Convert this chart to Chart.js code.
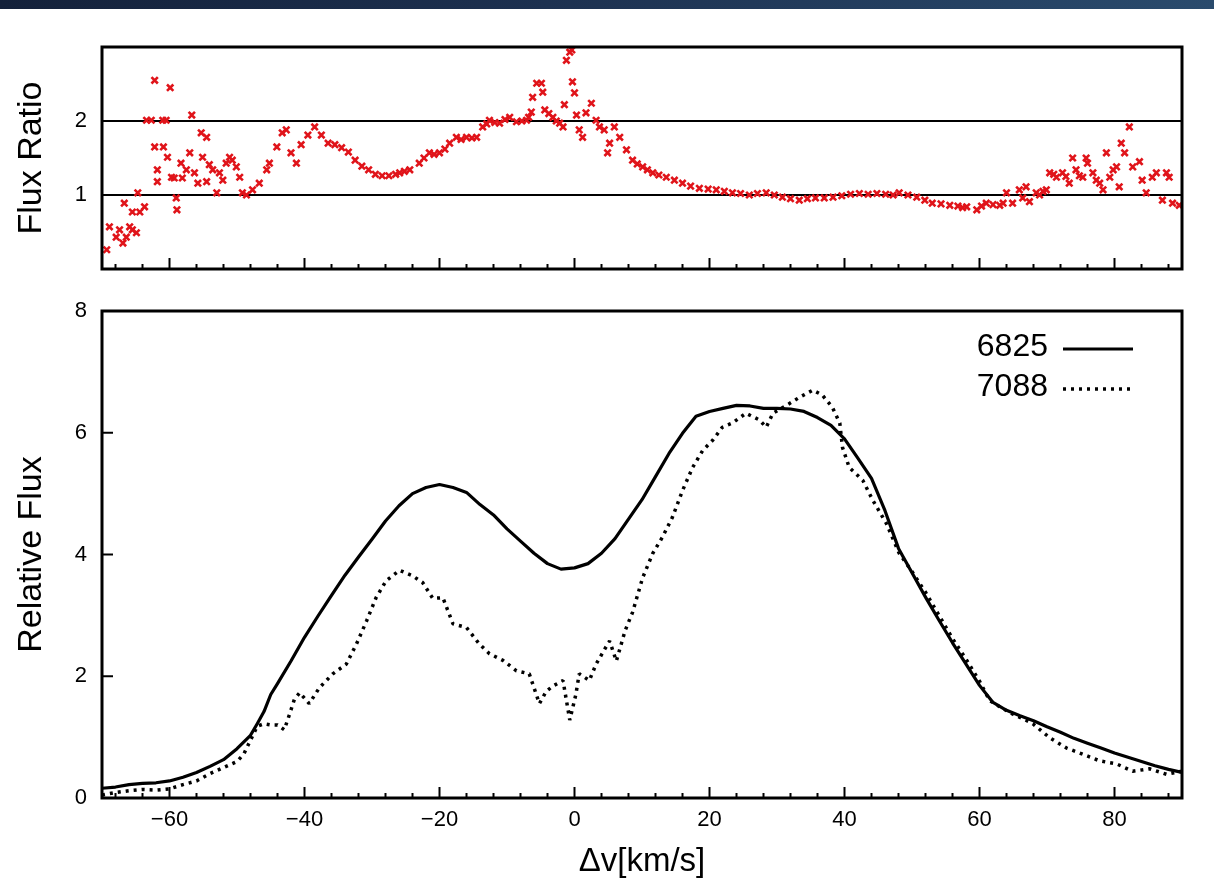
<!DOCTYPE html>
<html>
<head>
<meta charset="utf-8">
<script src="https://cdn.jsdelivr.net/npm/chart.js@4"></script>
<style>
html,body{margin:0;padding:0;background:#fff;}
#wrap{position:relative;width:1214px;height:879px;overflow:hidden;background:#fff;}
#band{position:absolute;left:0;top:0;width:1214px;height:9px;background:linear-gradient(90deg,#14213a 0%,#1d3150 45%,#2a4b6d 100%);}
#c1{position:absolute;left:0;top:0;width:1214px;height:290px;}
#c2{position:absolute;left:0;top:290px;width:1214px;height:589px;}
</style>
</head>
<body>
<div id="wrap">
<div id="band"></div>
<canvas id="c1" width="1214" height="290"></canvas>
<canvas id="c2" width="1214" height="589"></canvas>
</div>
<script>
// ---------- DATA ----------
const xTickValues = [-68,-64,-60,-56,-52,-48,-44,-40,-36,-32,-28,-24,-20,-16,-12,-8,-4,0,4,8,12,16,20,24,28,32,36,40,44,48,52,56,60,64,68,72,76,80,84,88];
const xMajorTicks = [-60,-40,-20,0,20,40,60,80];
const ratioTicks = [1,2];
const fluxTicks = [0,2,4,6,8];

// Top panel: flux ratio (red crosses)
const ratioVel = [-69.3,-68.9,-67.9,-67.4,-66.9,-66.7,-66.4,-65.9,-65.5,-65.5,-64.9,-64.7,-64.4,-63.7,-63.4,-62.7,-62.2,-62.2,-61.8,-61.8,-61.0,-60.9,-60.5,-60.3,-59.9,-59.7,-59.3,-59.0,-58.9,-58.3,-58.1,-57.5,-57.0,-56.7,-56.3,-55.8,-55.3,-55.1,-54.5,-54.5,-54.1,-53.6,-53.0,-52.6,-52.1,-51.6,-51.1,-50.7,-50.1,-49.6,-49.2,-48.6,-47.7,-46.7,-45.6,-45.2,-44.1,-43.3,-42.7,-42.0,-41.2,-40.5,-39.5,-38.5,-37.5,-36.5,-35.5,-34.5,-33.5,-32.5,-31.5,-30.5,-29.5,-28.5,-27.5,-26.5,-25.9,-25.2,-24.4,-23.0,-22.3,-21.5,-20.8,-20.0,-19.2,-18.5,-17.5,-16.8,-16.0,-15.2,-14.5,-13.6,-13.0,-12.6,-11.8,-11.1,-10.3,-9.6,-8.6,-7.8,-7.1,-6.8,-6.4,-6.2,-5.6,-4.9,-4.7,-4.4,-3.8,-3.2,-2.7,-2.2,-1.7,-1.5,-1.2,-0.7,-0.4,-0.3,0.0,0.3,0.7,1.2,1.7,2.5,3.2,3.7,4.4,4.9,5.2,5.9,6.7,7.7,8.6,9.3,10.1,10.8,11.6,12.5,13.6,14.8,16.0,17.2,18.5,19.8,21.0,22.2,23.4,24.6,25.9,27.1,28.4,29.6,30.8,32.0,33.3,34.5,35.7,37.0,38.3,39.6,40.9,42.2,43.5,44.8,46.1,47.2,48.1,49.4,50.7,51.9,53.0,54.3,55.6,56.8,57.5,58.1,59.6,60.3,61.0,62.0,63.0,63.5,64.0,64.9,65.9,66.4,66.9,67.4,68.4,68.9,69.4,69.9,70.4,71.0,71.4,72.3,72.8,73.3,73.8,74.3,74.8,75.3,75.8,76.0,76.8,77.3,77.8,78.3,78.8,79.3,79.8,80.3,80.7,81.0,81.5,82.2,82.7,83.7,84.1,84.7,85.6,86.2,87.1,87.7,88.1,88.6,89.6];
const ratioVal = [0.26,0.57,0.43,0.53,0.35,0.89,0.43,0.57,0.53,0.77,0.49,1.03,0.77,0.84,2.01,2.01,2.55,1.65,1.34,1.18,2.01,1.65,2.01,1.51,2.45,1.24,1.23,0.96,0.80,1.43,1.23,1.34,1.57,2.08,1.30,1.16,1.84,1.51,1.78,1.18,1.41,1.34,1.03,1.30,1.20,1.43,1.51,1.47,1.38,1.24,1.03,1.00,1.07,1.16,1.34,1.43,1.65,1.84,1.88,1.57,1.43,1.68,1.81,1.92,1.81,1.70,1.68,1.64,1.58,1.47,1.39,1.34,1.28,1.26,1.26,1.28,1.30,1.32,1.34,1.43,1.50,1.57,1.55,1.57,1.62,1.70,1.78,1.75,1.78,1.77,1.78,1.92,1.96,2.01,1.98,1.97,2.02,2.05,1.99,2.00,2.01,2.05,2.12,2.32,2.51,2.51,2.39,2.15,2.10,2.05,2.00,1.97,1.92,2.22,2.82,2.93,2.96,2.53,2.38,2.08,1.88,1.78,2.11,2.24,2.01,1.92,1.88,1.57,1.70,1.92,1.78,1.61,1.47,1.42,1.38,1.34,1.30,1.27,1.24,1.20,1.16,1.12,1.09,1.08,1.07,1.05,1.03,1.02,1.00,1.02,1.03,1.00,0.97,0.95,0.93,0.95,0.96,0.96,0.97,0.99,1.01,1.02,1.01,1.02,1.01,1.00,1.03,1.00,0.97,0.93,0.89,0.88,0.86,0.85,0.83,0.84,0.80,0.85,0.89,0.87,0.86,0.89,1.03,0.89,1.07,0.96,1.11,0.91,1.03,1.00,1.05,1.07,1.30,1.28,1.24,1.30,1.25,1.16,1.50,1.34,1.26,1.24,1.50,1.43,1.30,1.20,1.16,1.07,1.57,1.24,1.34,1.38,1.11,1.70,1.57,1.92,1.38,1.45,1.20,1.03,1.24,1.30,0.93,1.30,1.24,0.89,0.86];

// Bottom panel: relative flux, series 6825 (solid)
const vel6825 = [-70,-68,-66,-64,-62,-60,-58,-56,-54,-52,-50,-48,-47,-46,-45,-44,-42,-40,-38,-36,-34,-32,-30,-28,-26,-24,-22,-20,-18,-16,-14,-12,-10,-8,-6,-4,-2,0,2,4,6,8,10,12,14,16,18,20,22,24,26,28,30,32,34,36,38,40,42,44,46,48,50,52,54,56,58,60,62,64,66,68,70,72,74,76,78,80,82,84,86,88,90];
const flux6825 = [0.16,0.18,0.22,0.24,0.25,0.28,0.34,0.42,0.52,0.63,0.81,1.03,1.22,1.42,1.70,1.88,2.25,2.64,2.99,3.33,3.66,3.96,4.25,4.55,4.80,5.00,5.10,5.15,5.10,5.02,4.82,4.65,4.42,4.22,4.02,3.85,3.76,3.78,3.85,4.02,4.26,4.58,4.90,5.28,5.66,5.99,6.27,6.35,6.40,6.45,6.44,6.40,6.40,6.39,6.35,6.25,6.12,5.90,5.58,5.25,4.72,4.10,3.70,3.30,2.92,2.55,2.20,1.85,1.57,1.44,1.35,1.27,1.17,1.08,0.98,0.90,0.82,0.74,0.67,0.60,0.53,0.47,0.42];

// Bottom panel: relative flux, series 7088 (dotted)
const vel7088 = [-70,-68,-66,-64,-62,-60,-58,-56,-54,-52,-50,-49,-48,-47,-46,-45,-44,-43,-42.2,-41.5,-40.7,-39.3,-37.8,-35.8,-33.8,-32.3,-30.8,-29.4,-27.9,-25.9,-24.0,-22.5,-21.0,-19.5,-18.0,-16.0,-14.1,-12.6,-10.6,-8.6,-6.7,-5.2,-4.2,-3.2,-1.7,-0.7,0.2,0.7,2.2,3.2,4.5,5.2,6.2,7.5,8.6,10.1,11.6,13.0,14.5,16.0,17.5,19.0,20.5,21.9,23.4,25.4,27.4,28.4,29.4,31.4,33.3,35.3,36.7,38.2,39.3,39.7,40.7,42.7,44.2,46.2,48.1,50,52,54,56,58,60,61.5,63,64.9,66.5,67.9,70.4,72.9,75.3,77.8,80.3,82.7,85.2,87.7,90];
const flux7088 = [0.05,0.09,0.12,0.14,0.13,0.15,0.22,0.28,0.40,0.50,0.60,0.72,0.95,1.18,1.22,1.20,1.20,1.12,1.38,1.62,1.73,1.55,1.81,2.04,2.20,2.53,2.91,3.29,3.57,3.74,3.65,3.54,3.28,3.29,2.86,2.80,2.53,2.37,2.26,2.09,2.04,1.55,1.75,1.84,1.93,1.28,1.70,2.04,1.93,2.20,2.45,2.58,2.25,2.75,3.05,3.62,4.02,4.28,4.61,5.05,5.43,5.71,5.88,6.09,6.16,6.32,6.21,6.09,6.32,6.45,6.58,6.70,6.62,6.42,6.16,5.76,5.43,5.22,4.89,4.51,4.02,3.72,3.38,3.00,2.62,2.28,1.92,1.60,1.50,1.38,1.30,1.22,0.99,0.82,0.72,0.61,0.56,0.44,0.48,0.39,0.44];

// ---------- RENDER ----------
const FONT = '"Liberation Sans", Arial, Helvetica, sans-serif';
Chart.defaults.font.family = FONT;
Chart.defaults.color = '#000';

function fmt(v){ return v < 0 ? '\u2212' + Math.abs(v) : String(v); }
function pts(xs, ys){ return xs.map((x,i)=>({x:x, y:ys[i]})); }
function fixY(s){ s.width = 102; s.paddingTop = 0; s.paddingBottom = 0; }

const framePlugin = {
  id: 'frame',
  afterDatasetsDraw(chart, args, opts) {
    const ctx = chart.ctx, a = chart.chartArea, xs = chart.scales.x, ys = chart.scales.y;
    ctx.save();
    ctx.strokeStyle = '#000';
    ctx.lineWidth = 2;
    xs.ticks.forEach(t => {
      const px = xs.getPixelForValue(t.value);
      const len = xMajorTicks.includes(t.value) ? 11 : 5;
      ctx.beginPath(); ctx.moveTo(px, a.bottom); ctx.lineTo(px, a.bottom - len); ctx.stroke();
    });
    if (opts.yTicks) {
      ys.ticks.forEach(t => {
        const py = ys.getPixelForValue(t.value);
        ctx.beginPath(); ctx.moveTo(a.left, py); ctx.lineTo(a.left + 11, py); ctx.stroke();
      });
    }
    ctx.lineWidth = 3;
    ctx.strokeRect(a.left, a.top, a.right - a.left, a.bottom - a.top);
    ctx.restore();
  }
};

const keyPlugin = {
  id: 'key',
  afterDraw(chart, args, opts) {
    if (!opts.show) return;
    const ctx = chart.ctx, a = chart.chartArea;
    ctx.save();
    chart.data.datasets.forEach((ds, i) => {
      const y = a.top + 36 + i * 40;
      ctx.font = '32px ' + FONT;
      ctx.fillStyle = '#000';
      ctx.textAlign = 'right';
      ctx.textBaseline = 'middle';
      ctx.fillText(ds.label, a.right - 134, y);
      ctx.strokeStyle = ds.borderColor;
      ctx.lineWidth = ds.borderWidth;
      ctx.setLineDash(ds.borderDash || []);
      ctx.beginPath(); ctx.moveTo(a.right - 119, y + 2); ctx.lineTo(a.right - 49, y + 2); ctx.stroke();
    });
    ctx.restore();
  }
};

new Chart(document.getElementById('c1'), {
  type: 'scatter',
  data: { datasets: [{
    label: 'Flux Ratio',
    data: pts(ratioVel, ratioVal),
    showLine: false,
    pointStyle: 'crossRot',
    pointRadius: 4.5,
    pointBorderWidth: 2.6,
    borderColor: '#e0141a',
    backgroundColor: '#e0141a'
  }]},
  options: {
    responsive: false, animation: false,
    layout: { padding: { left: 0, right: 32, top: 47, bottom: 21 } },
    plugins: { legend: { display: false }, tooltip: { enabled: false }, frame: { yTicks: false }, key: { show: false } },
    scales: {
      x: { type: 'linear', min: -70, max: 90,
        afterBuildTicks: s => { s.ticks = xTickValues.map(v => ({ value: v })); },
        afterFit: s => { s.height = 0; s.paddingLeft = 0; s.paddingRight = 0; },
        ticks: { display: false }, grid: { display: false, drawTicks: false }, border: { display: false } },
      y: { type: 'linear', min: 0, max: 3,
        afterBuildTicks: s => { s.ticks = ratioTicks.map(v => ({ value: v })); },
        afterFit: fixY,
        ticks: { padding: 15, font: { size: 22 }, color: '#000', callback: v => fmt(v) },
        grid: { color: '#000', lineWidth: 2, drawTicks: false },
        border: { display: false },
        title: { display: true, text: 'Flux Ratio', font: { size: 34 }, color: '#000', padding: { top: 11, bottom: 0 } } }
    }
  },
  plugins: [framePlugin, keyPlugin]
});

new Chart(document.getElementById('c2'), {
  type: 'scatter',
  data: { datasets: [
    { label: '6825', data: pts(vel6825, flux6825), showLine: true, pointRadius: 0, borderColor: '#000', borderWidth: 3.2, borderJoinStyle: 'round', tension: 0 },
    { label: '7088', data: pts(vel7088, flux7088), showLine: true, pointRadius: 0, borderColor: '#000', borderWidth: 3.5, borderDash: [3, 5], borderJoinStyle: 'bevel', tension: 0 }
  ]},
  options: {
    responsive: false, animation: false,
    layout: { padding: { left: 0, right: 32, top: 21, bottom: 0 } },
    plugins: { legend: { display: false }, tooltip: { enabled: false }, frame: { yTicks: true }, key: { show: true } },
    scales: {
      x: { type: 'linear', min: -70, max: 90,
        afterBuildTicks: s => { s.ticks = xTickValues.map(v => ({ value: v })); },
        afterFit: s => { s.height = 81; s.paddingLeft = 0; s.paddingRight = 0; },
        ticks: { autoSkip: false, maxRotation: 0, minRotation: 0, padding: 9, font: { size: 22 }, color: '#000',
          callback: v => xMajorTicks.includes(v) ? fmt(v) : '' },
        grid: { display: false, drawTicks: false }, border: { display: false },
        title: { display: true, text: '\u0394v[km/s]', font: { size: 33, lineHeight: 1 }, color: '#000', padding: { top: 0, bottom: 1 } } },
      y: { type: 'linear', min: 0, max: 8,
        afterBuildTicks: s => { s.ticks = fluxTicks.map(v => ({ value: v })); },
        afterFit: fixY,
        ticks: { padding: 15, font: { size: 22 }, color: '#000', callback: v => fmt(v) },
        grid: { display: false, drawTicks: false }, border: { display: false },
        title: { display: true, text: 'Relative Flux', font: { size: 34 }, color: '#000', padding: { top: 11, bottom: 0 } } }
    }
  },
  plugins: [framePlugin, keyPlugin]
});
</script>
</body>
</html>
